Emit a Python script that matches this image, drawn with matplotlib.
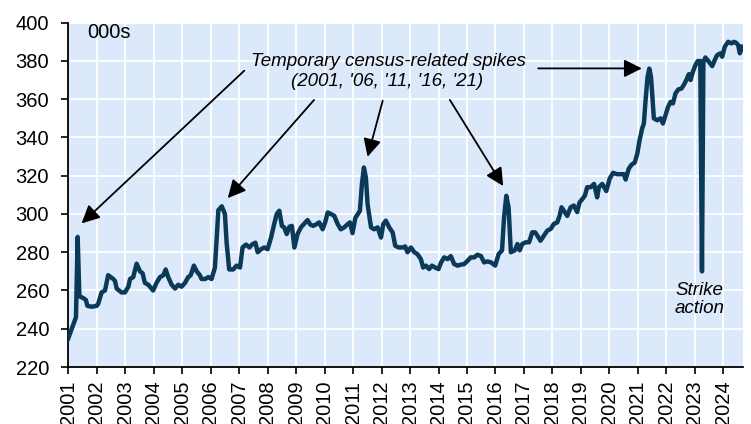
import matplotlib
matplotlib.use("Agg")
import matplotlib.pyplot as plt

plt.rcParams['font.family'] = ['Liberation Sans', 'DejaVu Sans']

# monthly employment readings (000s), decimal year positions
years = [
    2001.00, 2001.27, 2001.33, 2001.39, 2001.53, 2001.62, 2001.67, 2001.82,
    2002.00, 2002.05, 2002.17, 2002.29, 2002.40, 2002.58, 2002.64, 2002.70, 2002.87,
    2002.99, 2003.11, 2003.17, 2003.28, 2003.40, 2003.52, 2003.61, 2003.69, 2003.81,
    2003.98, 2004.10, 2004.22, 2004.34, 2004.42, 2004.51, 2004.63, 2004.75, 2004.86,
    2004.98, 2005.10, 2005.21, 2005.30, 2005.41, 2005.51, 2005.62, 2005.68, 2005.80,
    2005.92, 2006.03, 2006.15, 2006.27, 2006.39, 2006.50, 2006.56, 2006.65, 2006.79,
    2006.91, 2007.03, 2007.12, 2007.24, 2007.36, 2007.45, 2007.57, 2007.65, 2007.77,
    2007.88, 2008.00, 2008.12, 2008.23, 2008.32, 2008.41, 2008.50, 2008.58, 2008.67,
    2008.76, 2008.85, 2008.94, 2009.05, 2009.17, 2009.29, 2009.40, 2009.50, 2009.60,
    2009.72, 2009.81, 2009.93, 2010.02, 2010.11, 2010.22, 2010.34, 2010.46, 2010.57,
    2010.69, 2010.81, 2010.89, 2010.98, 2011.08, 2011.17, 2011.24, 2011.31, 2011.38,
    2011.45, 2011.51, 2011.63, 2011.74, 2011.86, 2011.98, 2012.06, 2012.15, 2012.27,
    2012.39, 2012.48, 2012.60, 2012.74, 2012.83, 2012.91, 2013.03, 2013.15, 2013.26,
    2013.38, 2013.46, 2013.56, 2013.67, 2013.77, 2013.88, 2014.00, 2014.09, 2014.20,
    2014.32, 2014.43, 2014.55, 2014.67, 2014.78, 2014.90, 2015.02, 2015.13, 2015.25,
    2015.37, 2015.49, 2015.60, 2015.72, 2015.84, 2015.99, 2016.11, 2016.23, 2016.30,
    2016.38, 2016.46, 2016.54, 2016.68, 2016.77, 2016.85, 2016.94, 2017.06, 2017.18,
    2017.29, 2017.39, 2017.47, 2017.58, 2017.70, 2017.82, 2017.94, 2018.05, 2018.17,
    2018.25, 2018.32, 2018.40, 2018.52, 2018.64, 2018.75, 2018.87, 2018.95, 2019.05,
    2019.14, 2019.22, 2019.34, 2019.46, 2019.57, 2019.63, 2019.75, 2019.89, 2020.01,
    2020.13, 2020.27, 2020.39, 2020.51, 2020.57, 2020.68, 2020.78, 2020.89, 2020.98,
    2021.06, 2021.15, 2021.21, 2021.27, 2021.34, 2021.40, 2021.46, 2021.51, 2021.56,
    2021.68, 2021.80, 2021.88, 2021.97, 2022.06, 2022.15, 2022.23, 2022.32, 2022.42,
    2022.53, 2022.61, 2022.70, 2022.79, 2022.85, 2022.93, 2023.02, 2023.10, 2023.19,
    2023.25, 2023.30, 2023.37, 2023.49, 2023.61, 2023.70, 2023.78, 2023.90, 2023.96,
    2024.05, 2024.17, 2024.29, 2024.37, 2024.45, 2024.52, 2024.58, 2024.66,
]
jobs = [
    235, 246, 288, 257, 256, 255, 252, 251.5,
    252, 253, 259, 260, 268, 266, 265, 261, 259,
    259, 262, 266, 267, 274, 270, 269, 264, 263,
    260, 264, 267, 268, 271, 267, 263, 261, 263,
    262, 264, 267, 268, 273, 270, 268, 266, 266,
    267, 266, 272, 302, 304, 300, 285, 271, 271,
    273, 272, 282.5, 284, 282.5, 284, 285, 280, 281.6,
    282.5, 281.6, 287.7, 294.7, 300, 301.7, 293.8, 293, 289.5,
    293.3, 293.8, 282.5, 289.5, 293, 295, 296.8, 294.4, 293.8,
    294.7, 295.6, 292, 295.6, 300.8, 300, 299, 294.7, 292,
    293, 294.7, 295.6, 290, 298, 300, 301.7, 315.6, 324.3,
    319, 305, 293, 292, 293, 287.7, 294.7, 296.5, 293,
    290.3, 283.4, 282.5, 282.5, 283, 280, 282.5, 280, 279,
    276.4, 272, 273, 271.2, 273, 272, 271.2, 274.7, 277.3,
    276.4, 278, 273.8, 273, 273.5, 273.8, 275.5, 277.3, 277.3,
    278.7, 278, 274.7, 275.2, 274.7, 273, 279, 281, 298,
    309.5, 303.4, 280, 281, 284.3, 281, 284.3, 285.2, 285.2,
    290.4, 290.4, 288.7, 286, 288.7, 291.3, 292.2, 294.8, 295.6,
    299, 303.5, 301.7, 299, 303.5, 304.4, 301, 306, 307.8,
    309.6, 314, 314, 315.7, 308.7, 314, 315.7, 312, 318.5,
    321.5, 320.8, 320.8, 320.8, 318, 323.7, 325.8, 326.9, 331.6,
    338.6, 344.7, 347.3, 359.5, 371.7, 376, 371.7, 361.3, 350,
    349, 350, 347.3, 351.7, 356, 358.6, 357.8, 363, 365.1,
    365.6, 367.4, 370, 373.1, 370, 374.3, 377.8, 379.9, 380,
    270, 379.6, 381.8, 379.6, 377.3, 380.5, 383, 384, 382.2,
    387.4, 390, 389.2, 390, 389.5, 388.3, 384, 387.4,
]

tick_years = list(range(2001, 2025))
y_ticks = list(range(220, 401, 20))

# census spike arrows: (text end, arrow tip)
census_arrows = [
    ((2007.18, 374.9), (2001.47, 295.1)),
    ((2009.63, 359.6), (2006.60, 308.3)),
    ((2012.04, 359.2), (2011.51, 329.9)),
    ((2014.40, 359.6), (2016.27, 314.6)),
    ((2017.50, 376.1), (2021.14, 376.1)),
]

LINE_COL = '#0b3a58'
BG_COL = '#dce9fa'

fig = plt.figure(figsize=(7.51, 4.24), dpi=100)
ax = fig.add_axes([0.0909, 0.1344, 0.8988, 0.8121])
ax.set_facecolor(BG_COL)

ax.plot(years, jobs, color=LINE_COL, lw=3.2, solid_joinstyle='round', zorder=3)

ax.set_xlim(2001, 2024.70)
ax.set_ylim(220, 400)
ax.set_xticks(tick_years)
ax.set_xticklabels([str(y) for y in tick_years], rotation=90)
ax.set_yticks(y_ticks)
ax.grid(True, color='white', lw=1.3)
ax.set_axisbelow(True)

for side in ['top', 'right']:
    ax.spines[side].set_visible(False)
for side in ['left', 'bottom']:
    ax.spines[side].set_linewidth(1.3)
    ax.spines[side].set_color('black')
ax.tick_params(axis='both', direction='out', length=4.8, width=1.2, labelsize=14.5, colors='black')
ax.tick_params(axis='y', pad=9)
ax.tick_params(axis='x', pad=5)

ax.text(2001.66, 395.1, '000s', fontsize=14.5, ha='left', va='center')

ax.text(2012.23, 379.6, 'Temporary census-related spikes', fontsize=13.5,
        style='italic', ha='center', va='center')
ax.text(2012.19, 369.1, "(2001, '06, '11, '16, '21)", fontsize=13.5,
        style='italic', ha='center', va='center')
for start, tip in census_arrows:
    ax.annotate('', xy=tip, xytext=start,
                arrowprops=dict(arrowstyle='-|>', color='black', lw=1.3,
                                mutation_scale=27, shrinkA=0, shrinkB=0),
                zorder=4)

ax.text(2023.17, 255.3, 'Strike\naction', fontsize=13.5, style='italic',
        ha='center', va='center', linespacing=1.15)

fig.savefig('out.png', dpi=100)
